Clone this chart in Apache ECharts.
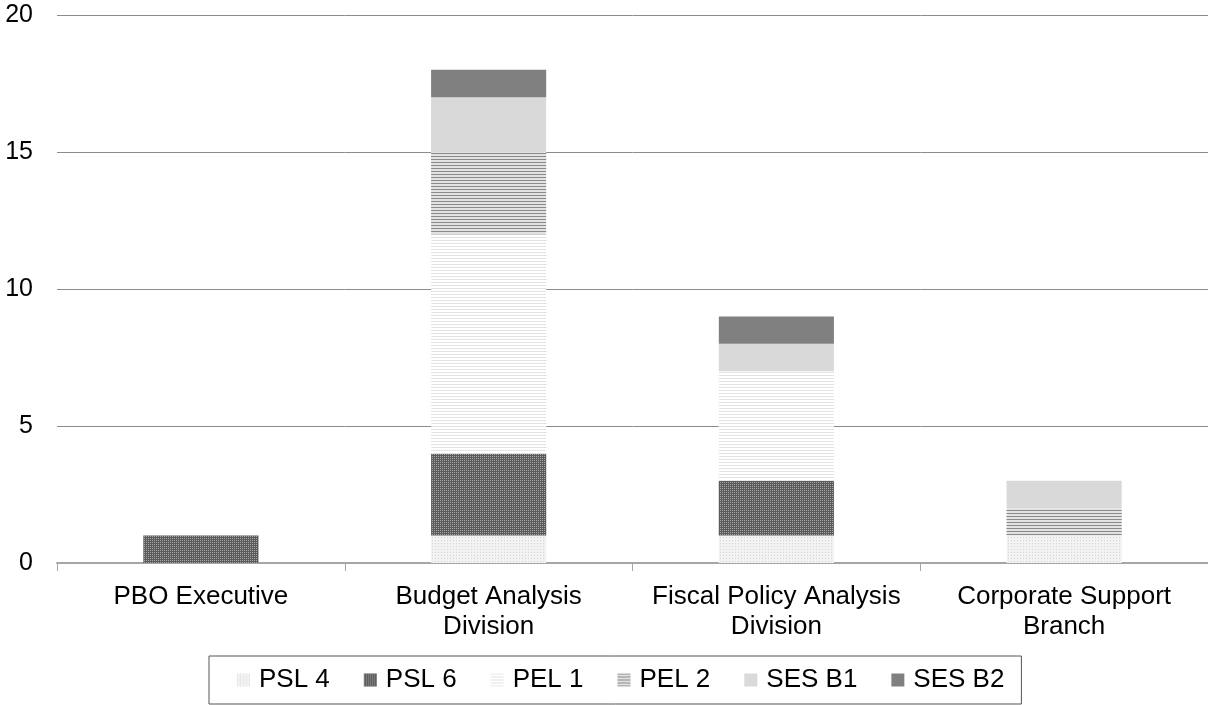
<!DOCTYPE html>
<html><head><meta charset="utf-8">
<script src="https://cdn.jsdelivr.net/npm/echarts@6/dist/echarts.min.js"></script>
<style>html,body{margin:0;padding:0;background:#fff}#c{width:1208px;height:705px}</style>
</head><body><div id="c"></div>
<script>
const categories = ['PBO Executive', 'Budget Analysis\nDivision', 'Fiscal Policy Analysis\nDivision', 'Corporate Support\nBranch'];
const seriesNames = ['PSL 4', 'PSL 6', 'PEL 1', 'PEL 2', 'SES B1', 'SES B2'];
const psl4 = [0, 1, 1, 1];
const psl6 = [1, 3, 2, 0];
const pel1 = [0, 8, 4, 0];
const pel2 = [0, 3, 0, 1];
const sesB1 = [0, 2, 1, 1];
const sesB2 = [0, 1, 1, 0];
const yTicks = [0, 5, 10, 15, 20];

const values = [psl4, psl6, pel1, pel2, sesB1, sesB2];
const styles = [
  {color: '#f2f2f2', decal: {symbol: 'rect', symbolSize: 1, color: '#d6d6d6', dashArrayX: [1, 2], dashArrayY: [1, 2], rotation: 0}},
  {color: '#5a5a5a', decal: {symbol: 'rect', symbolSize: 1, color: '#a8a8a8', dashArrayX: [1, 1], dashArrayY: [1, 1], rotation: 0}},
  {color: '#ffffff', decal: {symbol: 'rect', symbolSize: 1, color: '#e3e3e3', dashArrayX: [1, 0], dashArrayY: [1, 2], rotation: 0}},
  {color: '#e2e2e2', decal: {symbol: 'rect', symbolSize: 1, color: '#8a8a8a', dashArrayX: [1, 0], dashArrayY: [1, 2], rotation: 0}},
  {color: '#d9d9d9'},
  {color: '#808080'}
];
const FONT = '"Liberation Sans", Arial, sans-serif';
const chart = echarts.init(document.getElementById('c'), null, {renderer: 'canvas'});
chart.setOption({
  animation: false,
  backgroundColor: '#fff',
  grid: {left: 57, right: 0, top: 15, bottom: 142, containLabel: false},
  legend: {
    data: seriesNames,
    top: 656, left: 209,
    itemWidth: 13, itemHeight: 13, itemGap: 34,
    borderColor: '#555', borderWidth: 1, padding: [11, 17, 11, 28],
    icon: 'rect',
    textStyle: {fontFamily: FONT, fontSize: 26, color: '#000', padding: [0, 0, 0, 4]}
  },
  xAxis: {
    type: 'category', data: categories,
    axisLine: {lineStyle: {color: '#a6a6a6', width: 2}},
    axisTick: {show: true, length: 8, lineStyle: {color: '#a6a6a6', width: 1}},
    axisLabel: {fontFamily: FONT, fontSize: 26, color: '#000', margin: 19, lineHeight: 30, interval: 0}
  },
  yAxis: {
    type: 'value', min: yTicks[0], max: yTicks[yTicks.length - 1], interval: 5,
    axisLine: {show: false}, axisTick: {show: false},
    splitLine: {lineStyle: {color: '#8c8c8c', width: 1}},
    axisLabel: {fontFamily: FONT, fontSize: 25, color: '#000', margin: 24}
  },
  series: seriesNames.map((n, i) => ({
    name: n, type: 'bar', stack: 'total', barWidth: '40%',
    data: values[i],
    itemStyle: Object.assign({}, styles[i])
  }))
});
</script></body></html>
